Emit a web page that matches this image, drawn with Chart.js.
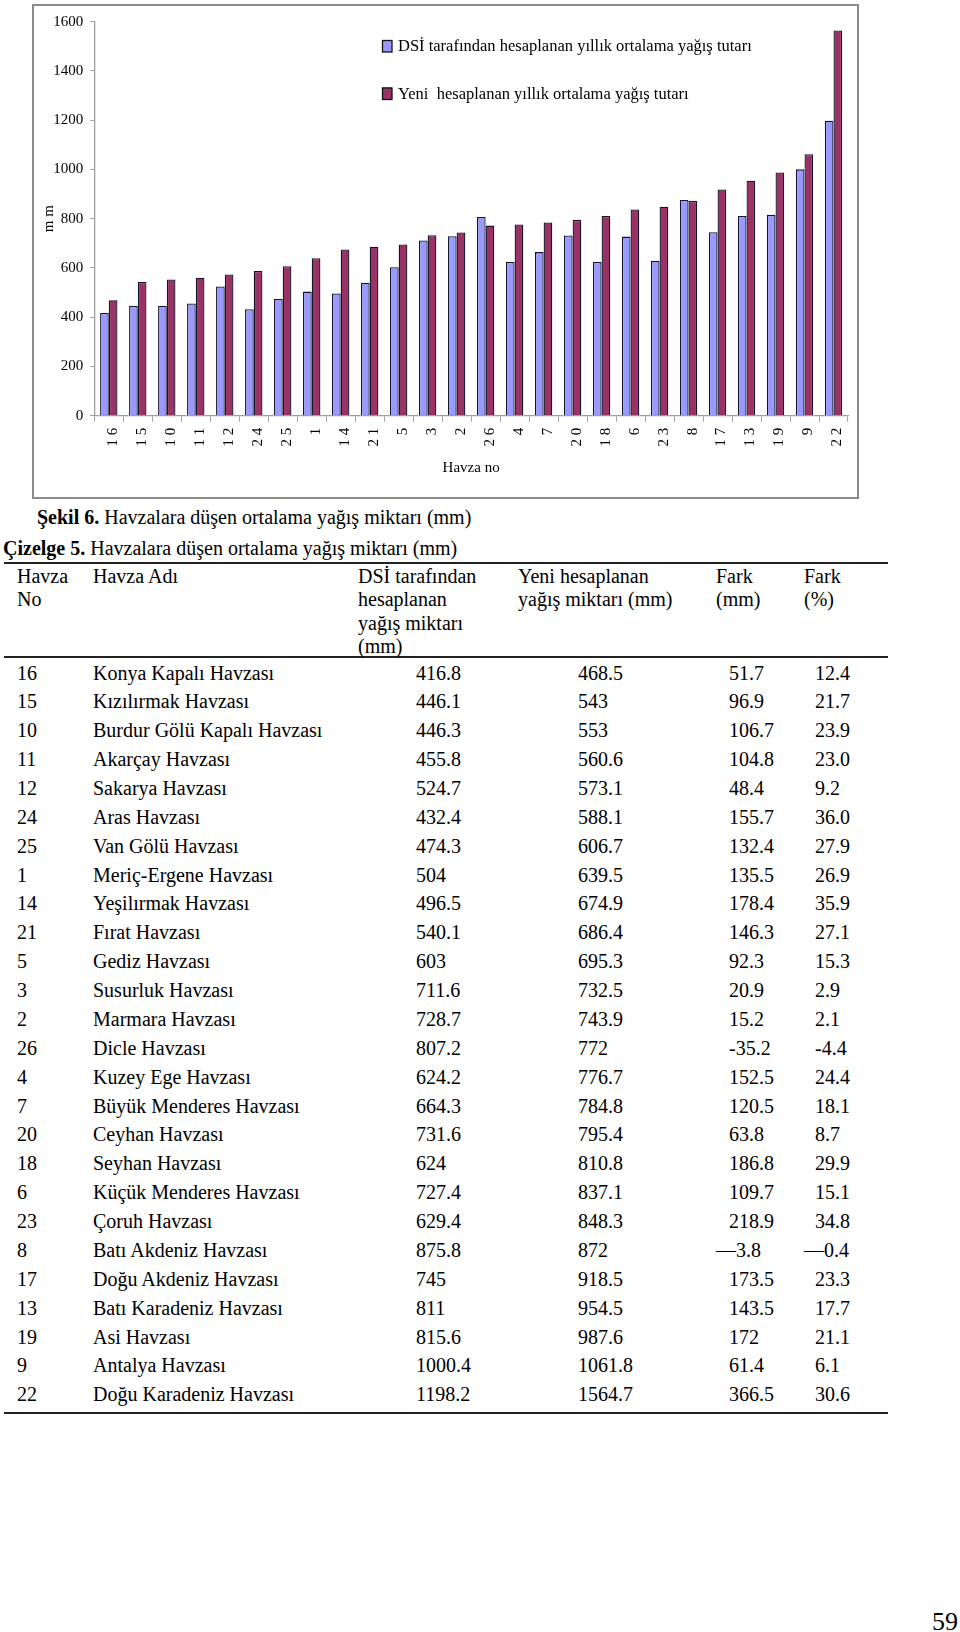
<!DOCTYPE html>
<html><head><meta charset="utf-8">
<script src="https://cdn.jsdelivr.net/npm/chart.js@4/dist/chart.umd.min.js"></script>
<style>
html,body{margin:0;padding:0;background:#fff;}
body{width:960px;height:1632px;position:relative;overflow:hidden;font-family:"Liberation Serif","Times New Roman",serif;color:#000;}
#frame{position:absolute;left:32px;top:4px;width:823px;height:491px;border:2px solid #8a8a8a;}
#chartwrap{position:absolute;left:0;top:0;width:960px;height:500px;}
.t{position:absolute;white-space:nowrap;font-size:20px;line-height:24px;}
.h{position:absolute;white-space:nowrap;font-size:20px;line-height:23.3px;}
.rule{position:absolute;left:4px;width:884px;height:2px;background:#222;}
</style></head><body>
<div id="frame"></div>
<div id="chartwrap"><canvas id="c" width="960" height="500"></canvas></div>
<div id="table"></div>
<script>
// ---- data ----
const categories = ["16","15","10","11","12","24","25","1","14","21","5","3","2","26","4","7","20","18","6","23","8","17","13","19","9","22"];
const dsiValues  = [416.8,446.1,446.3,455.8,524.7,432.4,474.3,504,496.5,540.1,603,711.6,728.7,807.2,624.2,664.3,731.6,624,727.4,629.4,875.8,745,811,815.6,1000.4,1198.2];
const yeniValues = [468.5,543,553,560.6,573.1,588.1,606.7,639.5,674.9,686.4,695.3,732.5,743.9,772,776.7,784.8,795.4,810.8,837.1,848.3,872,918.5,954.5,987.6,1061.8,1564.7];
const seriesNames = ["DSİ tarafından hesaplanan yıllık ortalama yağış tutarı","Yeni  hesaplanan yıllık ortalama yağış tutarı"];
const yMin = 0, yMax = 1600, yStep = 200;
const basinNames = ["Konya Kapalı Havzası","Kızılırmak Havzası","Burdur Gölü Kapalı Havzası","Akarçay Havzası","Sakarya Havzası","Aras Havzası","Van Gölü Havzası","Meriç-Ergene Havzası","Yeşilırmak Havzası","Fırat Havzası","Gediz Havzası","Susurluk Havzası","Marmara Havzası","Dicle Havzası","Kuzey Ege Havzası","Büyük Menderes Havzası","Ceyhan Havzası","Seyhan Havzası","Küçük Menderes Havzası","Çoruh Havzası","Batı Akdeniz Havzası","Doğu Akdeniz Havzası","Batı Karadeniz Havzası","Asi Havzası","Antalya Havzası","Doğu Karadeniz Havzası"];
const dsiText  = ["416.8","446.1","446.3","455.8","524.7","432.4","474.3","504","496.5","540.1","603","711.6","728.7","807.2","624.2","664.3","731.6","624","727.4","629.4","875.8","745","811","815.6","1000.4","1198.2"];
const yeniText = ["468.5","543","553","560.6","573.1","588.1","606.7","639.5","674.9","686.4","695.3","732.5","743.9","772","776.7","784.8","795.4","810.8","837.1","848.3","872","918.5","954.5","987.6","1061.8","1564.7"];
const farkMm  = ["51.7","96.9","106.7","104.8","48.4","155.7","132.4","135.5","178.4","146.3","92.3","20.9","15.2","-35.2","152.5","120.5","63.8","186.8","109.7","218.9","—3.8","173.5","143.5","172","61.4","366.5"];
const farkPct = ["12.4","21.7","23.9","23.0","9.2","36.0","27.9","26.9","35.9","27.1","15.3","2.9","2.1","-4.4","24.4","18.1","8.7","29.9","15.1","34.8","—0.4","23.3","17.7","21.1","6.1","30.6"];
const headers = [
  ["Havza","No"],
  ["Havza Adı"],
  ["DSİ tarafından","hesaplanan","yağış miktarı","(mm)"],
  ["Yeni hesaplanan"," yağış miktarı (mm)"],
  ["Fark","(mm)"],
  ["Fark","(%)"]
];
const captionFig = ["Şekil 6.", " Havzalara düşen ortalama yağış miktarı (mm)"];
const captionTab = ["Çizelge 5.", " Havzalara düşen ortalama yağış miktarı (mm)"];
const pageNumber = "59";

// ---- chart ----
const FONT = '"Liberation Serif","Times New Roman",serif';
const legendPlugin = {
  id:'insideLegend',
  afterDraw(chart){
    const ctx = chart.ctx; ctx.save();
    chart.data.datasets.forEach((ds,i)=>{
      const y = 46 + i*47.5;
      ctx.fillStyle = ds.backgroundColor; ctx.fillRect(382, y-6, 10, 12);
      ctx.strokeStyle = '#111'; ctx.lineWidth = 1.3; ctx.strokeRect(382.5, y-5.5, 9.5, 11.5);
      ctx.fillStyle = '#000'; ctx.font = '16.5px ' + FONT; ctx.textBaseline = 'middle'; ctx.textAlign='left';
      ctx.fillText(ds.label, 398, y+1);
    });
    ctx.restore();
  }
};
new Chart(document.getElementById('c'), {
  type:'bar',
  data:{
    labels: categories,
    datasets:[
      {label:seriesNames[0], data:dsiValues, backgroundColor:'#9999FF', borderColor:'#15152a', borderWidth:1.3, categoryPercentage:0.6, barPercentage:1},
      {label:seriesNames[1], data:yeniValues, backgroundColor:'#993366', borderColor:'#15152a', borderWidth:1.3, categoryPercentage:0.6, barPercentage:1}
    ]
  },
  options:{
    responsive:false, animation:false,
    layout:{padding:{left:40, top:21.7, right:112, bottom:23}},
    plugins:{legend:{display:false}, tooltip:{enabled:false}},
    scales:{
      x:{
        grid:{display:true, drawOnChartArea:false, drawTicks:true, tickLength:6, color:'#a0a0a0', offset:true},
        border:{display:true, color:'#a0a0a0', width:1.3},
        ticks:{minRotation:90, maxRotation:90, autoSkip:false, padding:6, labelOffset:4, color:'#000',
          font:{family:FONT, size:15},
          callback(v){ return this.getLabelForValue(v).split('').join(' '); }},
        title:{display:true, text:'Havza no', color:'#000', font:{family:FONT, size:15}, padding:{top:0,bottom:0}},
        afterFit(s){ s.height = 61.3; }
      },
      y:{
        min:yMin, max:yMax,
        ticks:{stepSize:yStep, padding:7, color:'#000', font:{family:FONT, size:15},
          callback(v){ return String(v); }},
        grid:{display:true, drawOnChartArea:false, drawTicks:true, tickLength:4, color:'#a0a0a0'},
        border:{display:true, color:'#a0a0a0', width:1.3},
        title:{display:true, text:'m m', color:'#000', font:{family:FONT, size:15}, padding:{top:0,bottom:0}},
        afterFit(s){ s.width = 54.3; }
      }
    }
  },
  plugins:[legendPlugin]
});

// ---- captions & table ----
const T = document.getElementById('table');
function add(cls, txt, left, top, extra){
  const d = document.createElement('div'); d.className = cls;
  d.style.left = left + 'px'; d.style.top = top + 'px';
  if (extra) Object.assign(d.style, extra);
  d.textContent = txt; T.appendChild(d); return d;
}
function caption(parts, left, cy){
  const d = add('t', '', left, cy-12);
  const b = document.createElement('b'); b.textContent = parts[0]; d.appendChild(b);
  d.appendChild(document.createTextNode(parts[1]));
}
caption(captionFig, 37, 517);
caption(captionTab, 3, 548);
function rule(cy){ const r = document.createElement('div'); r.className='rule'; r.style.top=(cy-1)+'px'; T.appendChild(r); }
rule(562.5); rule(657); rule(1412.5);
const headX = [17, 93, 358, 518, 716, 804];
headers.forEach((lines,c)=>{
  lines.forEach((ln,k)=>{ add('h', ln, headX[c], 576.7 - 11.65 + k*23.3); });
});
const colX = [17, 93, 416, 578, 729, 815];
categories.forEach((no,i)=>{
  const cy = 672.5 + i*28.87, top = cy - 12;
  const cells = [no, basinNames[i], dsiText[i], yeniText[i], farkMm[i], farkPct[i]];
  cells.forEach((txt,c)=>{
    const x = txt.startsWith('—') ? headX[c] : colX[c];
    add('t', txt, x, top);
  });
});
add('t', pageNumber, 0, 1607, {fontSize:'26px', lineHeight:'30px', left:'auto', right:'2px'});
</script>
</body></html>
